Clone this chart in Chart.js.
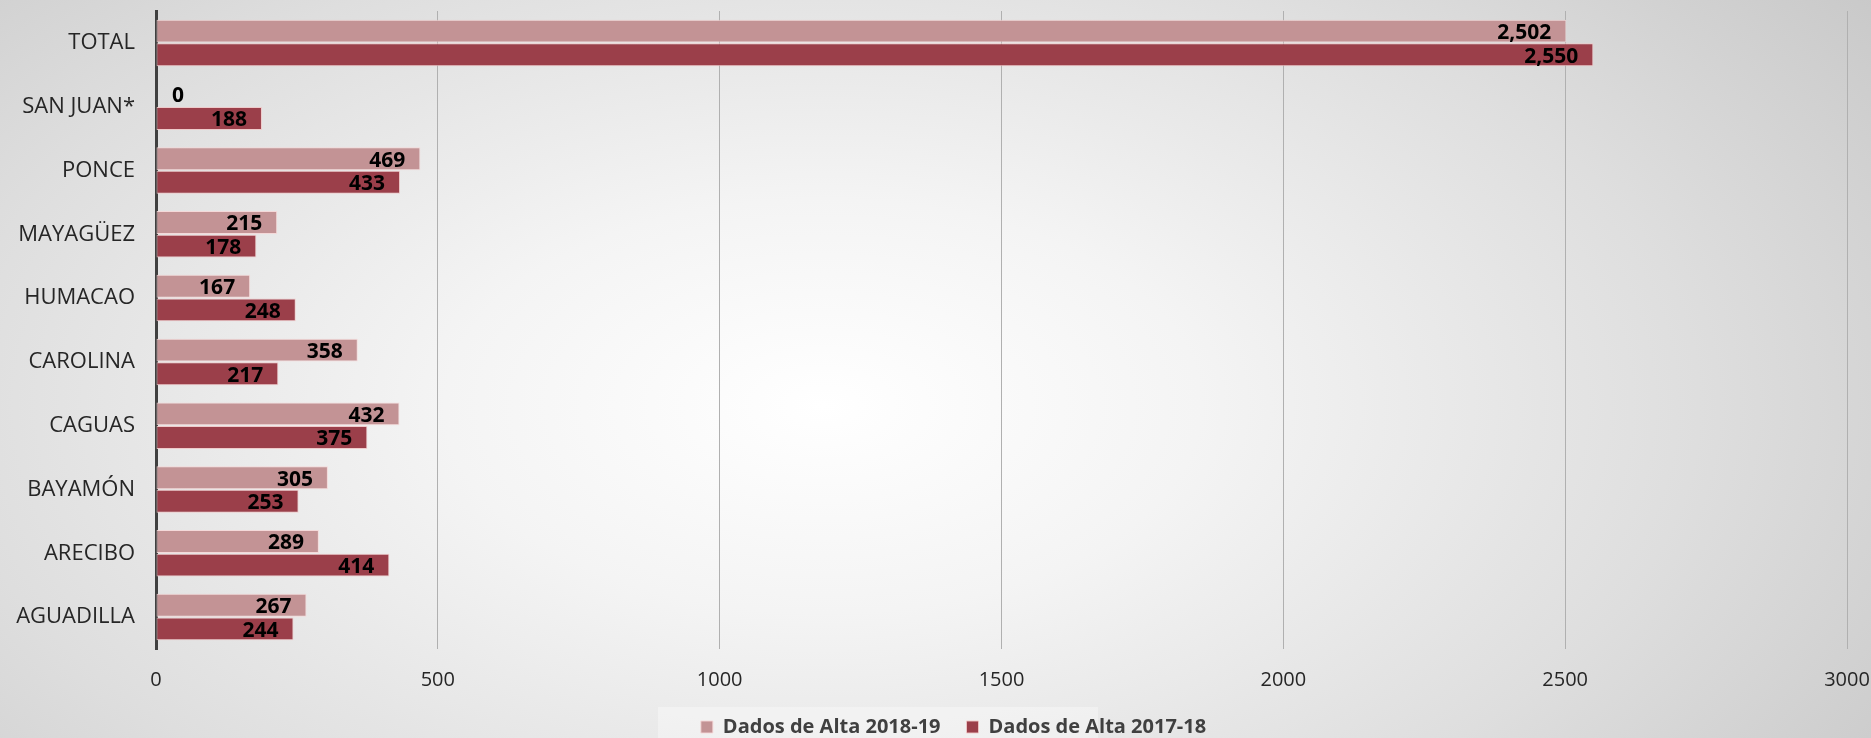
<html>
<head>
<meta charset="utf-8">
<script src="https://cdn.jsdelivr.net/npm/chart.js@4.4.1/dist/chart.umd.min.js"></script>
<style>
  html, body { margin: 0; padding: 0; }
  body {
    width: 1871px; height: 738px; overflow: hidden;
    background: radial-gradient(ellipse 72% 100% at 44% 55%, #ffffff 0%, #f4f4f4 28%, #dedede 65%, #c6c6c6 100%);
  }
  #wrap { position: relative; width: 1871px; height: 738px; }
</style>
</head>
<body>
<div id="wrap"><canvas id="myChart" width="1871" height="738"></canvas></div>
<script>
  var regiones = ['TOTAL', 'SAN JUAN*', 'PONCE', 'MAYAGÜEZ', 'HUMACAO', 'CAROLINA', 'CAGUAS', 'BAYAMÓN', 'ARECIBO', 'AGUADILLA'];
  var alta1819 = [2502, 0, 469, 215, 167, 358, 432, 305, 289, 267];
  var alta1718 = [2550, 188, 433, 178, 248, 217, 375, 253, 414, 244];
  var serieNombres = ['Dados de Alta 2018-19', 'Dados de Alta 2017-18'];

  var fuente = "'Open Sans', 'Noto Sans', sans-serif";

  // etiquetas de valor dentro del extremo de cada barra
  var etiquetas = {
    id: 'etiquetas',
    afterDatasetsDraw: function(chart) {
      var ctx = chart.ctx;
      ctx.save();
      ctx.font = 'bold 21px ' + fuente;
      ctx.fillStyle = '#000000';
      ctx.textBaseline = 'middle';
      chart.data.datasets.forEach(function(ds, i) {
        var meta = chart.getDatasetMeta(i);
        meta.data.forEach(function(bar, j) {
          var v = ds.data[j];
          var txt = v.toLocaleString('en-US');
          if (v === 0) {
            ctx.textAlign = 'left';
            ctx.fillText(txt, bar.base + 16, bar.y + 1);
          } else {
            ctx.textAlign = 'right';
            ctx.fillText(txt, bar.x - 15, bar.y + 2);
          }
        });
      });
      ctx.restore();
    }
  };

  // banda clara detras de la leyenda, y leyenda algo corrida a la derecha
  var fondoLeyenda = {
    id: 'fondoLeyenda',
    beforeDraw: function(chart) {
      if (chart.legend) chart.legend.left = 60;
      var ctx = chart.ctx;
      ctx.save();
      ctx.fillStyle = 'rgba(255,255,255,0.35)';
      ctx.fillRect(658, 707, 440, 31);
      ctx.restore();
    }
  };

  var ctx = document.getElementById('myChart').getContext('2d');
  var myChart = new Chart(ctx, {
    type: 'bar',
    data: {
      labels: regiones,
      datasets: [{
        label: serieNombres[0],
        data: alta1819,
        backgroundColor: '#c39395',
        borderColor: 'rgba(245,215,215,0.9)',
        borderWidth: 1,
        borderSkipped: false
      }, {
        label: serieNombres[1],
        data: alta1718,
        backgroundColor: '#9b3f4a',
        borderColor: 'rgba(240,200,200,0.9)',
        borderWidth: 1,
        borderSkipped: false
      }]
    },
    options: {
      indexAxis: 'y',
      responsive: false,
      animation: false,
      devicePixelRatio: 1,
      layout: { padding: { left: 0, right: 24, top: 11, bottom: -9 } },
      categoryPercentage: 0.74,
      barPercentage: 0.97,
      scales: {
        x: {
          min: 0, max: 3000,
          ticks: {
            stepSize: 500,
            color: '#262626',
            font: { family: fuente, size: 20 },
            padding: 19,
            maxRotation: 0,
            callback: function(v) { return String(v); }
          },
          grid: {
            color: '#b0b0b0',
            lineWidth: 1,
            drawTicks: false
          },
          border: { display: false },
          afterFit: function(scale) {
            scale.height = 42;
            scale.paddingLeft = 0;
            scale.paddingRight = 0;
          }
        },
        y: {
          ticks: {
            color: '#262626',
            font: { family: fuente, size: 22 },
            padding: 21
          },
          grid: { display: false, drawTicks: false },
          border: { display: true, color: '#404040', width: 3 },
          afterFit: function(scale) {
            scale.width = 156;
            scale.paddingTop = 0;
            scale.paddingBottom = 0;
          }
        }
      },
      plugins: {
        legend: {
          position: 'bottom',
          labels: {
            color: '#404040',
            font: { family: fuente, size: 20, weight: 'bold' },
            boxWidth: 12,
            boxHeight: 12,
            padding: 26
          }
        },
        tooltip: { enabled: false }
      }
    },
    plugins: [etiquetas, fondoLeyenda]
  });
</script>
</body>
</html>
